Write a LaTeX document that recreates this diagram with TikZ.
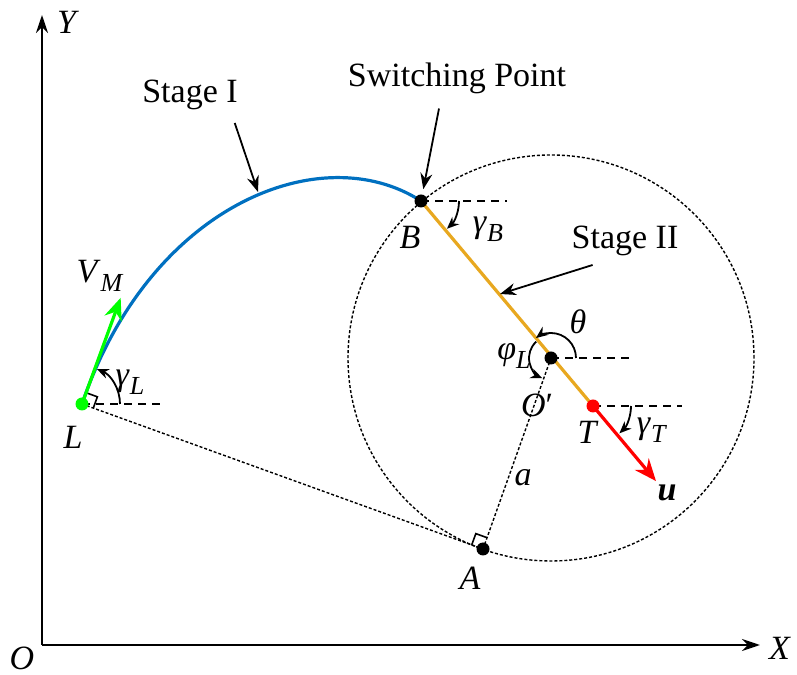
\documentclass[tikz,border=0pt]{standalone}
\usepackage{fontspec}
\setmainfont{Liberation Serif}
\usetikzlibrary{arrows.meta,calc}
\definecolor{stageblue}{RGB}{0,112,192}
\definecolor{stageorange}{RGB}{232,168,32}
\newcommand{\lowsub}[1]{\raisebox{-0.55ex}{\fontsize{13}{14}\selectfont\textit{#1}}}

\begin{document}
\begin{tikzpicture}[x=0.5pt,y=0.5pt,
  font=\rmfamily\fontsize{17}{20}\selectfont,
  axis/.style={line width=1.3pt,-{Stealth[length=9pt,width=6pt]}},
  aux/.style={line width=0.7pt,dash pattern=on 1.5pt off 1pt},
  hline/.style={line width=0.9pt,dash pattern=on 4pt off 3pt},
  angarc/.style={line width=0.9pt,-{Stealth[length=6pt,width=5pt]}},
  callout/.style={line width=0.9pt,-{Stealth[length=8pt,width=6pt]}},
  vec/.style={line width=1.6pt,-{Stealth[length=11pt,width=9pt]}},
  dot/.style={circle,fill,inner sep=0pt,minimum size=6.5pt}]
  \useasboundingbox (0,0) rectangle (797,674);
  % Main points
  \coordinate (O) at (42,29);
  \coordinate (xend) at (760,29);
  \coordinate (yend) at (42,659);
  \coordinate (L) at (82,270);
  \coordinate (B) at (421,473);
  \coordinate (Oc) at (551,316);
  \coordinate (T) at (593,268);
  \coordinate (A) at (483,125);
  \coordinate (vm) at ($(L)+(70:113)$);
  \coordinate (u) at ($(T)+(-50:98)$);
  % Axes
  \draw[axis] (O) -- (xend);
  \draw[axis] (O) -- (yend);
  \node (olab) at (22,16) {\textit{O}};
  \node (xlab) at (780,26) {\textit{X}};
  \node (ylab) at (68,652) {\textit{Y}};
  % Circle and tangent construction
  \draw[aux] (Oc) circle[radius=203];
  \draw[aux] (L) -- (A);
  \draw[aux] (A) -- (Oc);
  \draw[line width=0.8pt] ($(L)+(-20:12)$) -- ($(L)+(-20:12)+(70:12)$) -- ($(L)+(70:12)$);
  \draw[line width=0.8pt] ($(A)+(70:12)$) -- ($(A)+(70:12)+(160:12)$) -- ($(A)+(160:12)$);
  % Horizontal references
  \draw[hline] (L) -- ++(83,0);
  \draw[hline] (B) -- ++(86,0);
  \draw[hline] (Oc) -- ++(81,0);
  \draw[hline] (T) -- ++(89,0);
  % Stage I and Stage II paths
  \draw[stageblue,line width=1.6pt] (L) .. controls (150,470) and (322,537) .. (B);
  \draw[stageorange,line width=1.6pt] (B) -- (T);
  \draw[vec,red] (T) -- (u);
  \draw[vec,green] (L) -- (vm);
  % Points
  \node[dot,fill=green] (Ldot) at (L) {};
  \node[dot] (Bdot) at (B) {};
  \node[dot] (Odot) at (Oc) {};
  \node[dot] (Adot) at (A) {};
  \node[dot,fill=red] (Tdot) at (T) {};
  % Angles
  \draw[angarc] ($(L)+(38,0)$) arc[start angle=0,end angle=67,radius=38];
  \draw[angarc] ($(B)+(38,0)$) arc[start angle=0,end angle=-47,radius=38];
  \draw[angarc] ($(Oc)+(25,0)$) arc[start angle=0,end angle=127,radius=25];
  \draw[angarc] ($(Oc)+(132:22)$) arc[start angle=132,end angle=247,radius=22];
  \draw[angarc] ($(T)+(38,0)$) arc[start angle=0,end angle=-46,radius=38];
  % Labels
  \node (vmlab) at (100,398) {\textit{V}\lowsub{M}};
  \node (gL) at (130,292) {\textit{γ}\lowsub{L}};
  \node (Llab) at (73,237) {\textit{L}};
  \node (Blab) at (410,437) {\textit{B}};
  \node (gB) at (488,445) {\textit{γ}\lowsub{B}};
  \node (thlab) at (578,352) {\textit{θ}};
  \node (phlab) at (514,318) {\textit{φ}\lowsub{L}};
  \node (Oclab) at (537,269) {\textit{O}′};
  \node (Tlab) at (588,242) {\textit{T}};
  \node (gT) at (652,244) {\textit{γ}\lowsub{T}};
  \node (ulab) at (667,181) {\textbf{\textit{u}}};
  \node (alab) at (523,196) {\textit{a}};
  \node (Alab) at (470,96) {\textit{A}};
  % Callouts
  \node (stI) at (190,579) {Stage I};
  \node (swp) at (457,596) {Switching Point};
  \node (stII) at (625,433) {Stage II};
  \coordinate (stIend) at (258,482);
  \coordinate (stIIend) at (500,380);
  \draw[callout] ([xshift=-5pt,yshift=-3pt]stI.south east) -- (stIend);
  \draw[callout,shorten >=6pt] ([xshift=-9pt,yshift=-4pt]swp.south) -- (B);
  \draw[callout] ([xshift=14pt,yshift=-1pt]stII.south west) -- (stIIend);
\end{tikzpicture}
\end{document}
